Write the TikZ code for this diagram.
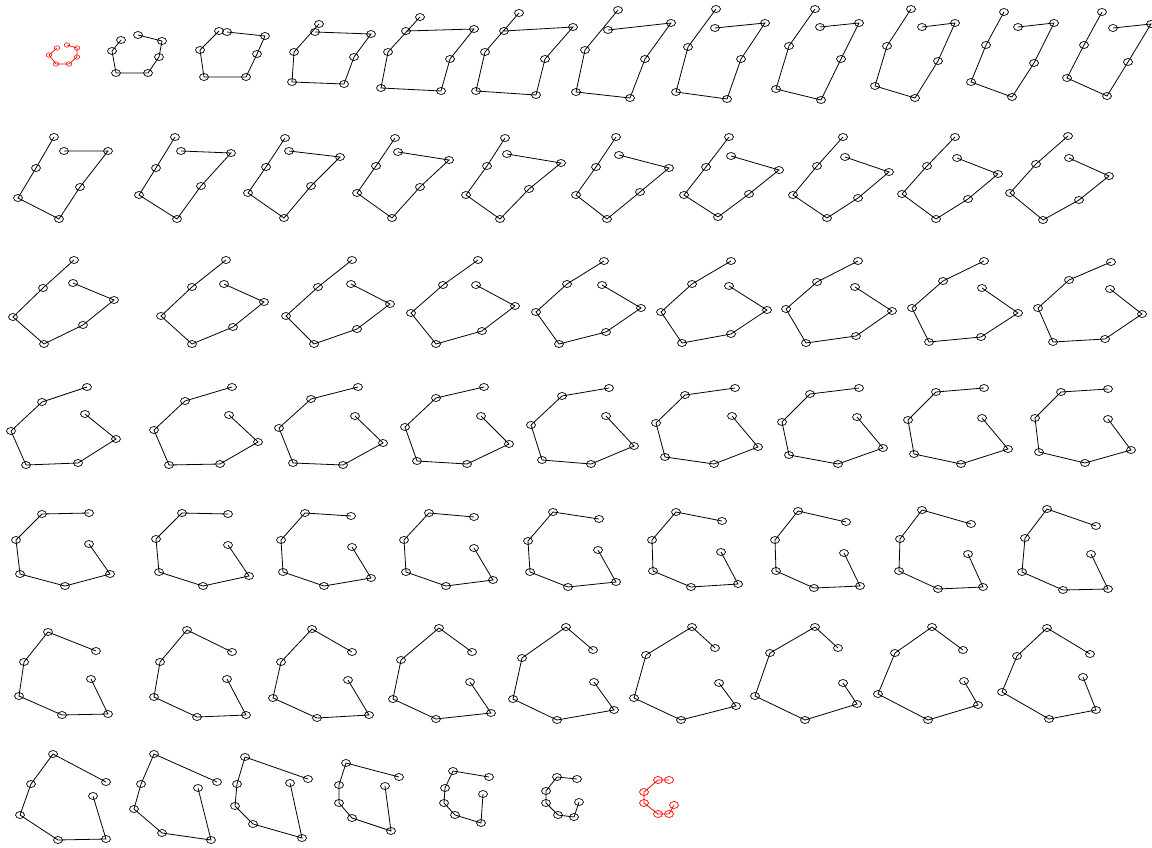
\documentclass[tikz,border=0pt]{standalone}
\usetikzlibrary{shapes.geometric}
\tikzset{
  nd/.style={ellipse, draw=black, minimum width=9pt, minimum height=7pt, inner sep=0pt, line width=0.7pt},
  blk/.style={nd},
  blke/.style={draw=black, line width=0.8pt},
  rsm/.style={nd, draw=red, minimum width=5.5pt, minimum height=4.5pt, line width=0.6pt},
  rsme/.style={draw=red, line width=0.7pt},
  rbg/.style={nd, draw=red},
  rbge/.style={draw=red, line width=0.8pt}
}
\newcommand\gfig[9]{%
  \node[#2] (#1a) at (#3) {};
  \node[#2] (#1b) at (#4) {};
  \node[#2] (#1c) at (#5) {};
  \node[#2] (#1d) at (#6) {};
  \node[#2] (#1e) at (#7) {};
  \node[#2] (#1f) at (#8) {};
  \node[#2] (#1g) at (#9) {};
  \draw[#2e] (#1a.center) -- (#1b.center) -- (#1c.center) -- (#1d.center) -- (#1e.center) -- (#1f.center) -- (#1g.center);
}
\begin{document}
\begin{tikzpicture}[x=1pt,y=-1pt]
\useasboundingbox (0,0) rectangle (1152,848);
% Row 1
\gfig{ra}{rsm}{57,48}{49,55}{56,64}{69,64}{77,57}{77,48}{67,45}
\gfig{rb}{blk}{121,40}{112,51}{116,73}{148,73}{159,57}{162,41}{138,35}
\gfig{rc}{blk}{219,31}{200,50}{204,77}{246,77}{257,54}{265,36}{227,32}
\gfig{rd}{blk}{319,24}{294,52}{292,82}{344,84}{354,57}{371,34}{315,32}
\gfig{re}{blk}{420,17}{388,52}{381,88}{441,91}{450,59}{474,29}{406,31}
\gfig{rf}{blk}{519,13}{485,52}{476,91}{536,95}{545,59}{573,27}{504,31}
\gfig{rg}{blk}{618,10}{585,50}{576,92}{630,98}{645,59}{671,23}{608,30}
\gfig{rh}{blk}{716,9}{688,47}{676,92}{727,99}{741,59}{765,23}{715,28}
\gfig{ri}{blk}{815,9}{789,46}{776,89}{821,100}{841,59}{859,23}{820,27}
\gfig{rj}{blk}{911,9}{887,46}{875,86}{915,98}{938,61}{955,23}{922,27}
\gfig{rk}{blk}{1004,12}{986,45}{971,82}{1012,97}{1034,63}{1054,23}{1018,27}
\gfig{rl}{blk}{1102,12}{1084,45}{1067,78}{1107,96}{1128,62}{1151,24}{1113,28}
% Row 2
\gfig{sa}{blk}{54,137}{36,168}{18,198}{59,219}{80,187}{108,151}{64,151}
\gfig{sb}{blk}{175,137}{156,168}{139,195}{177,219}{201,186}{231,153}{181,151}
\gfig{sc}{blk}{285,138}{266,167}{248,193}{284,218}{311,186}{340,157}{289,151}
\gfig{sd}{blk}{395,138}{376,166}{357,193}{392,218}{420,187}{449,160}{398,152}
\gfig{se}{blk}{505,138}{487,166}{466,195}{500,219}{529,189}{561,163}{507,154}
\gfig{sf}{blk}{616,137}{596,167}{576,195}{607,219}{640,192}{669,168}{619,155}
\gfig{sg}{blk}{729,137}{706,167}{684,195}{718,217}{749,194}{779,170}{731,156}
\gfig{sh}{blk}{843,137}{817,166}{793,195}{827,218}{858,198}{889,172}{845,157}
\gfig{si}{blk}{955,137}{927,166}{902,194}{936,219}{968,199}{998,174}{957,158}
\gfig{sj}{blk}{1068,136}{1036,164}{1010,193}{1043,220}{1079,200}{1109,176}{1069,158}
% Row 3
\gfig{ta}{blk}{74,260}{43,288}{13,317}{44,344}{83,325}{114,300}{73,283}
\gfig{tb}{blk}{226,260}{192,287}{161,316}{192,344}{233,327}{264,302}{224,284}
\gfig{tc}{blk}{352,260}{318,287}{286,316}{314,344}{357,329}{390,304}{351,284}
\gfig{td}{blk}{478,260}{443,285}{411,313}{436,344}{482,331}{515,306}{476,285}
\gfig{te}{blk}{604,261}{567,284}{536,312}{559,344}{606,332}{641,308}{602,285}
\gfig{tf}{blk}{731,261}{692,284}{661,312}{682,343}{731,334}{767,310}{729,286}
\gfig{tg}{blk}{858,261}{817,282}{786,309}{806,343}{856,336}{892,311}{855,287}
\gfig{th}{blk}{984,261}{943,281}{912,308}{929,342}{981,337}{1018,313}{982,288}
\gfig{ti}{blk}{1111,262}{1069,280}{1038,308}{1053,342}{1105,339}{1142,314}{1110,289}
% Row 4
\gfig{ua}{blk}{87,387}{42,402}{11,431}{26,465}{78,463}{116,439}{85,414}
\gfig{ub}{blk}{232,387}{185,401}{154,430}{169,465}{220,464}{258,442}{229,415}
\gfig{uc}{blk}{358,387}{311,399}{279,428}{293,463}{343,465}{383,443}{355,416}
\gfig{ud}{blk}{484,387}{436,398}{405,427}{417,461}{467,464}{509,444}{481,416}
\gfig{ue}{blk}{609,388}{562,396}{531,425}{542,460}{591,464}{634,446}{606,416}
\gfig{uf}{blk}{735,388}{685,395}{656,423}{665,457}{714,464}{758,447}{732,416}
\gfig{ug}{blk}{859,388}{810,394}{782,422}{789,455}{838,464}{883,448}{857,417}
\gfig{uh}{blk}{984,388}{936,392}{908,420}{914,454}{961,464}{1008,449}{982,418}
\gfig{ui}{blk}{1108,389}{1061,392}{1035,418}{1039,452}{1085,463}{1131,450}{1108,419}
% Row 5
\gfig{va}{blk}{89,513}{42,514}{16,540}{20,574}{65,586}{110,574}{89,544}
\gfig{vb}{blk}{228,514}{182,513}{156,539}{159,572}{203,586}{249,576}{228,545}
\gfig{vc}{blk}{351,516}{305,513}{281,540}{283,572}{324,586}{371,578}{352,547}
\gfig{vd}{blk}{474,517}{429,513}{404,540}{406,572}{446,586}{493,580}{474,548}
\gfig{ve}{blk}{599,519}{553,512}{528,541}{530,572}{568,587}{616,582}{598,550}
\gfig{vf}{blk}{722,521}{676,512}{652,540}{653,571}{691,587}{738,584}{721,552}
\gfig{vg}{blk}{846,522}{798,511}{775,540}{776,571}{814,588}{860,586}{844,553}
\gfig{vh}{blk}{971,524}{922,510}{900,539}{899,571}{938,589}{983,587}{968,554}
\gfig{vi}{blk}{1096,526}{1047,509}{1025,538}{1022,572}{1063,590}{1108,589}{1091,554}
% Row 6
\gfig{wa}{blk}{96,651}{48,632}{24,662}{19,696}{62,715}{108,714}{91,679}
\gfig{wb}{blk}{232,652}{187,630}{160,662}{154,697}{197,717}{246,715}{227,679}
\gfig{wc}{blk}{352,652}{312,629}{281,662}{273,698}{317,718}{369,715}{348,680}
\gfig{wd}{blk}{472,652}{439,628}{401,660}{393,699}{436,719}{491,713}{470,682}
\gfig{we}{blk}{593,650}{566,627}{522,658}{513,699}{557,720}{614,710}{594,682}
\gfig{wf}{blk}{715,648}{692,627}{646,655}{634,698}{681,720}{736,706}{719,683}
\gfig{wg}{blk}{838,648}{815,627}{770,653}{755,696}{805,720}{857,704}{843,683}
\gfig{wh}{blk}{963,650}{932,627}{895,653}{878,694}{928,720}{978,705}{964,681}
\gfig{wi}{blk}{1090,654}{1047,628}{1017,656}{1002,692}{1049,719}{1096,710}{1083,677}
% Row 7
\gfig{xa}{blk}{106,782}{53,754}{31,784}{20,815}{58,840}{106,839}{93,796}
\gfig{xb}{blk}{217,782}{154,754}{141,784}{134,809}{162,833}{211,840}{198,788}
\gfig{xc}{blk}{308,779}{245,757}{237,784}{235,806}{253,824}{302,838}{290,783}
\gfig{xd}{blk}{399,777}{346,763}{339,785}{339,803}{352,818}{391,831}{385,786}
\gfig{xe}{blk}{489,777}{453,771}{445,788}{444,803}{455,815}{481,823}{483,794}
\gfig{xf}{blk}{577,779}{557,777}{546,791}{546,803}{558,815}{574,817}{579,802}
\gfig{xg}{rbg}{669,780}{658,780}{644,792}{644,803}{658,814}{669,814}{674,805}
\end{tikzpicture}
\end{document}
